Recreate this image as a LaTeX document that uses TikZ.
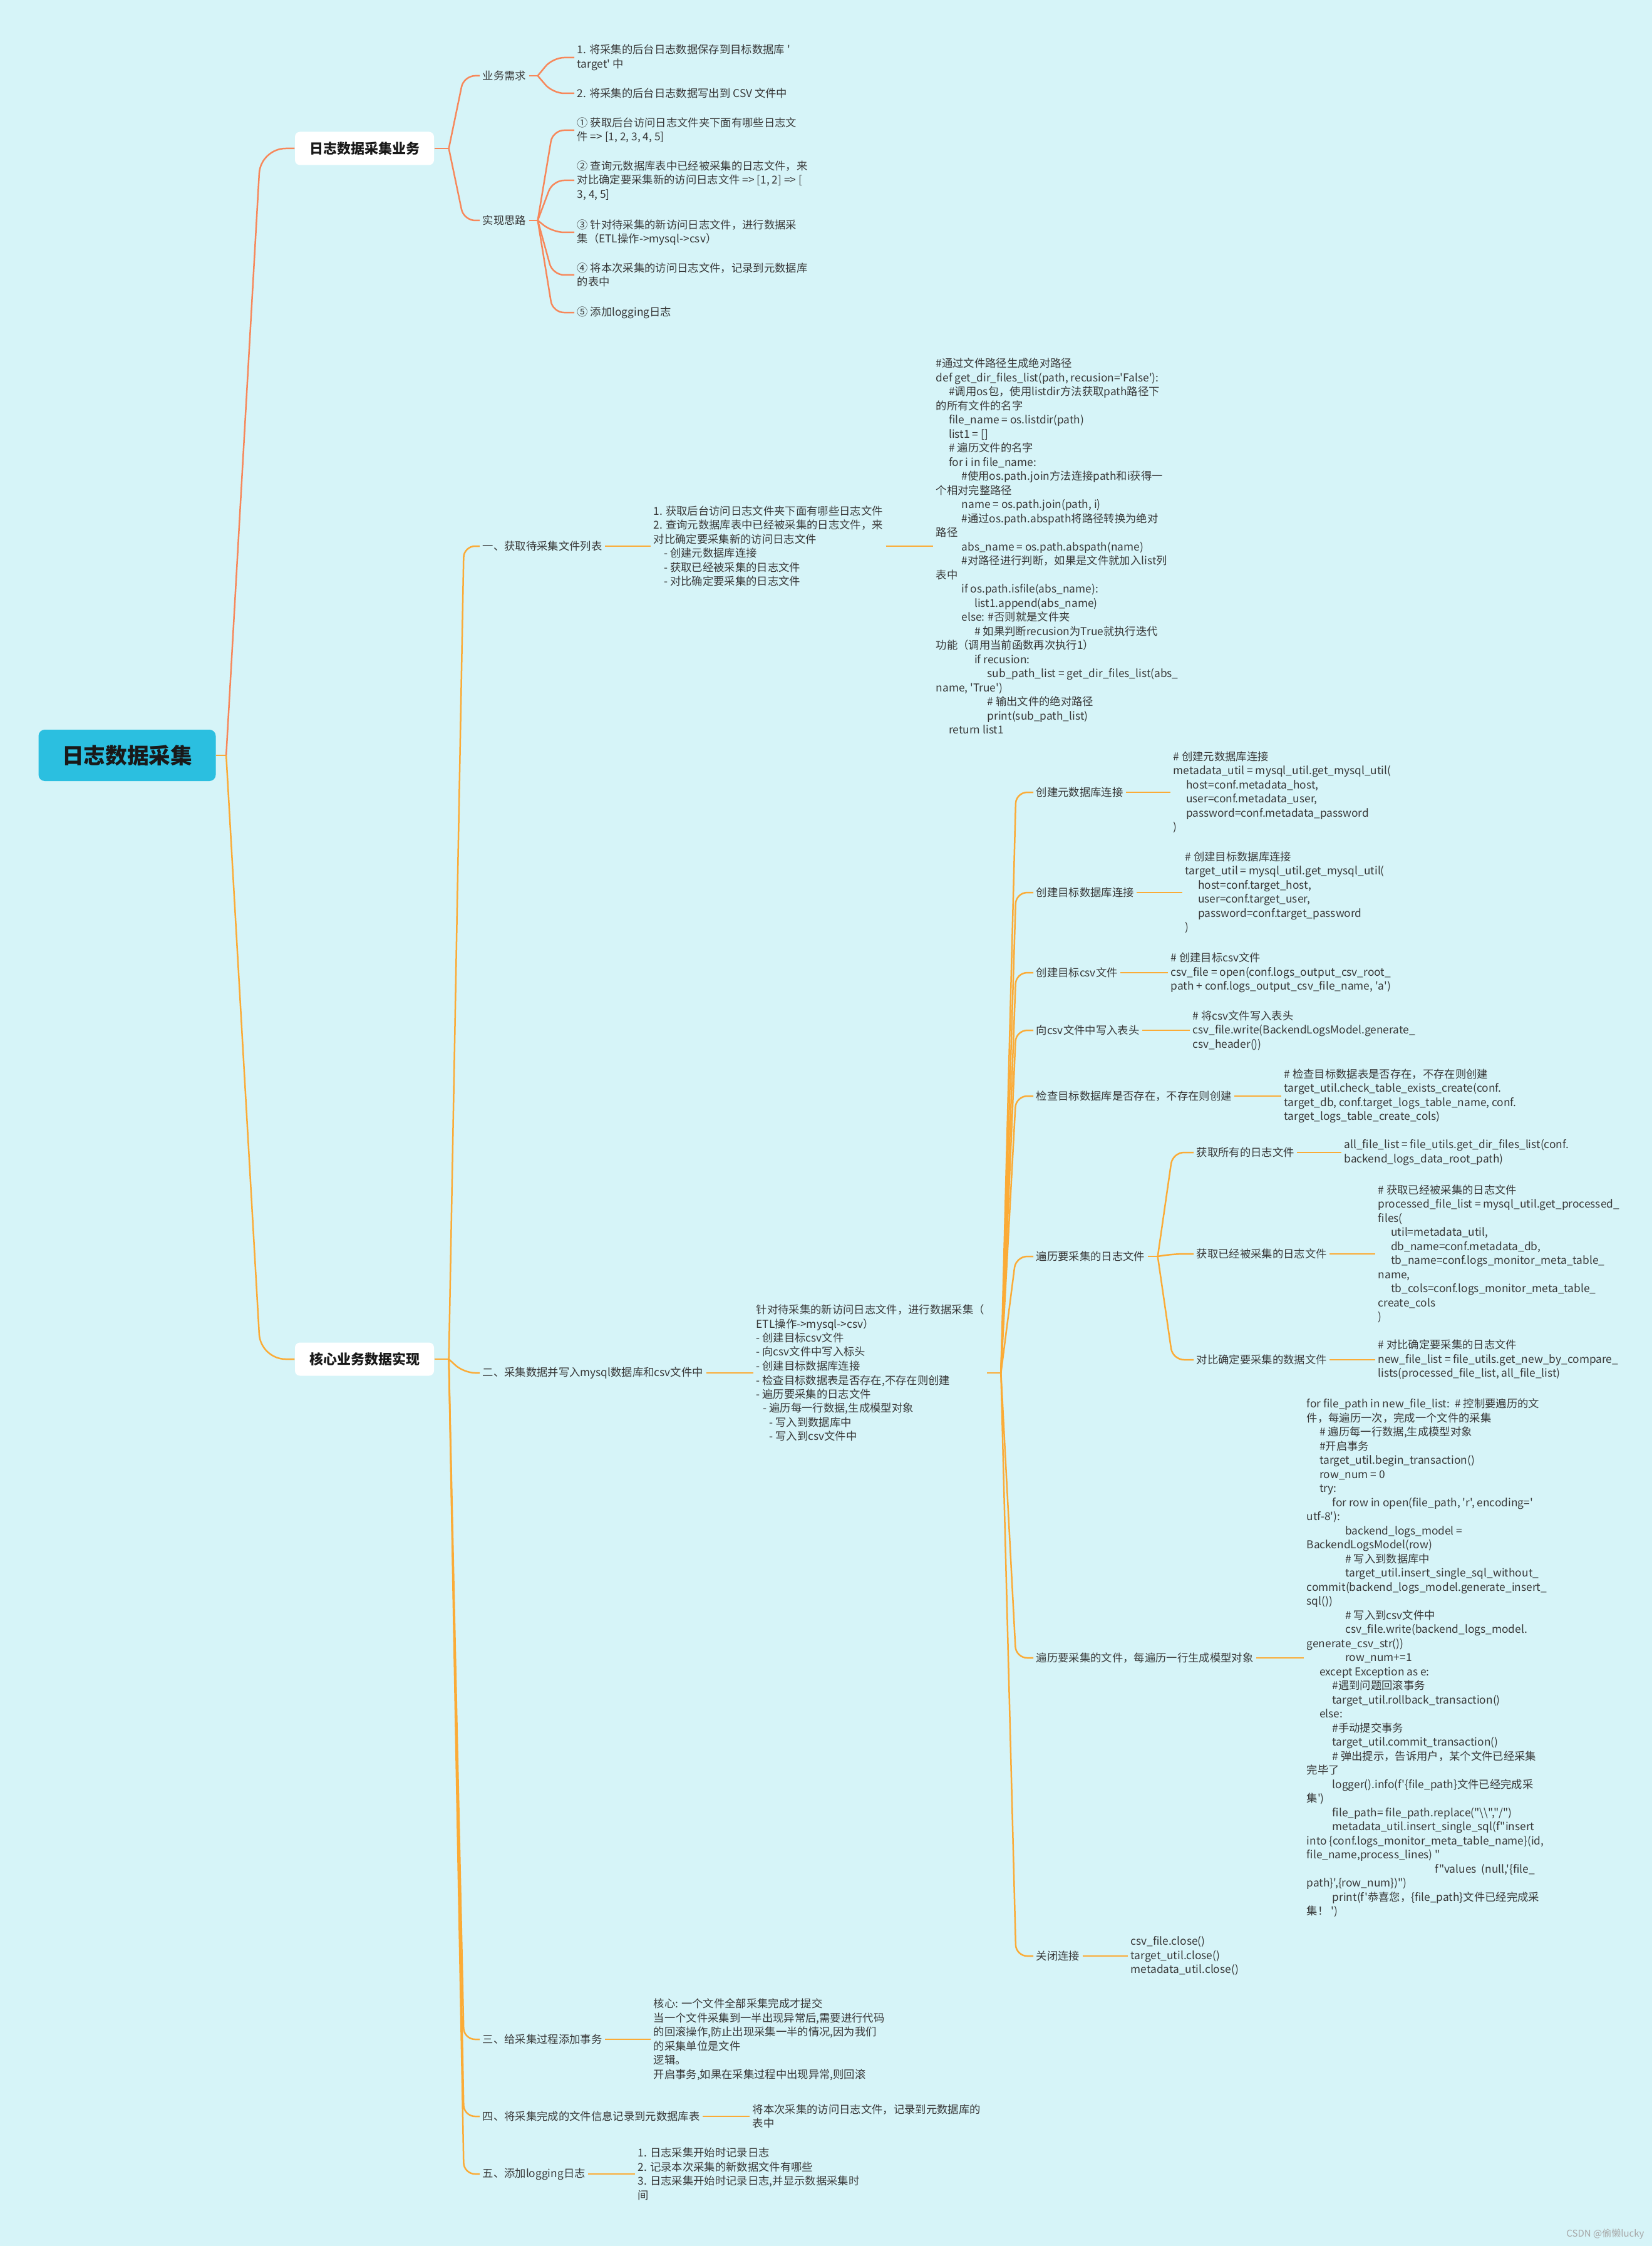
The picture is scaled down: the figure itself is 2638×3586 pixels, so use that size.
\documentclass[tikz,border=0pt]{standalone}
\usepackage{fontspec}
\setmainfont{Noto Sans CJK SC}[Ligatures=TeXOff]
\usepackage{tikz}
\usetikzlibrary{calc}
\definecolor{bgcyan}{HTML}{D6F4F8}
\definecolor{rootcyan}{HTML}{2BBFE0}
\definecolor{coral}{HTML}{F7875A}
\definecolor{amber}{HTML}{FBAB36}
\definecolor{ink}{HTML}{383838}
\newlength\stegw
\setlength\stegw{6.15pt}
\newcommand{\steg}[1]{\hspace*{#1\stegw}}
\tikzset{
  % noder
  rot/.style={rounded corners=3pt,fill=rootcyan,text=black!90,inner sep=0pt,
              minimum width=84.9pt,minimum height=24.6pt,
              font=\fontsize{10.4pt}{12pt}\selectfont\bfseries},
  amne/.style={rounded corners=2.4pt,fill=white,text=black!90,inner sep=0pt,
               minimum width=66.6pt,minimum height=15.9pt,
               font=\fontsize{6.6pt}{8pt}\selectfont\bfseries},
  gren/.style={anchor=west,inner xsep=1.2pt,inner ysep=0pt,align=left,text=ink,
               font=\fontsize{5.2pt}{6.75pt}\selectfont},
  % linjer
  ko/.style={draw=coral,line width=0.75pt,rounded corners=5.4pt},
  am/.style={draw=amber,line width=0.75pt,rounded corners=5.4pt},
}
\begin{document}
\begin{tikzpicture}[x=0.3pt,y=-0.3pt]
\fill[bgcyan] (0,0) rectangle (2638,3586);
\useasboundingbox (0,0) rectangle (2638,3586);
\node[rot] (rz) at (203,1206) {日志数据采集};
\node[amne] (yw) at (582,237) {日志数据采集业务};
\node[amne] (hx) at (582,2170) {核心业务数据实现};
\coordinate (j0) at ($(rz.east)+(16,0)$);
\draw[am] (rz.east) -- (j0);
\draw[ko,rounded corners=12pt] (j0) -- ($(j0 |- yw.west)+(55,0)$) -- (yw.west);
\draw[am,rounded corners=12pt] (j0) -- ($(j0 |- hx.west)+(55,0)$) -- (hx.west);

% 业务
\node[gren] (xq) at (766,121) {业务需求};
\node[gren] (sl) at (766,352) {实现思路};
\node[gren] (xq1) at (917,92) {1. 将采集的后台日志数据保存到目标数据库 '\\target' 中};
\node[gren] (xq2) at (917,149) {2. 将采集的后台日志数据写出到 CSV 文件中};
\node[gren] (sl1) at (917,208) {① 获取后台访问日志文件夹下面有哪些日志文\\件 => [1, 2, 3, 4, 5]};
\node[gren] (sl2) at (917,288) {② 查询元数据库表中已经被采集的日志文件，来\\对比确定要采集新的访问日志文件 => [1, 2] => [\\3, 4, 5]};
\node[gren] (sl3) at (917,371) {③ 针对待采集的新访问日志文件，进行数据采\\集（ETL操作->mysql->csv）};
\node[gren] (sl4) at (917,439) {④ 将本次采集的访问日志文件，记录到元数据库\\的表中};
\node[gren] (sl5) at (917,499) {⑤ 添加logging日志};
\coordinate (j1) at ($(yw.east)+(23,0)$);
\coordinate (j2) at ($(xq.east)+(14,0)$);
\coordinate (j3) at ($(sl.east)+(14,0)$);
\draw[ko] (yw.east) -- (j1);
\draw[ko] (j1) -- ($(j1 |- xq.west)+(24,0)$) -- (xq.west);
\draw[ko] (j1) -- ($(j1 |- sl.west)+(24,0)$) -- (sl.west);
\draw[ko] (xq.east) -- (j2);
\draw[ko] (j2) -- ($(j2 |- xq1.west)+(24,0)$) -- (xq1.west);
\draw[ko] (j2) -- ($(j2 |- xq2.west)+(24,0)$) -- (xq2.west);
\draw[ko] (sl.east) -- (j3);
\draw[ko] (j3) -- ($(j3 |- sl1.west)+(24,0)$) -- (sl1.west);
\draw[ko] (j3) -- ($(j3 |- sl2.west)+(24,0)$) -- (sl2.west);
\draw[ko] (j3) -- ($(j3 |- sl3.west)+(24,0)$) -- (sl3.west);
\draw[ko] (j3) -- ($(j3 |- sl4.west)+(24,0)$) -- (sl4.west);
\draw[ko] (j3) -- ($(j3 |- sl5.west)+(24,0)$) -- (sl5.west);

% 核心
\node[gren] (s1) at (766,872) {一、获取待采集文件列表};
\node[gren] (s2) at (766,2192) {二、采集数据并写入mysql数据库和csv文件中};
\node[gren] (s3) at (766,3256) {三、给采集过程添加事务};
\node[gren] (s4) at (766,3379) {四、将采集完成的文件信息记录到元数据库表};
\node[gren] (s5) at (766,3471) {五、添加logging日志};
\coordinate (j4) at ($(hx.east)+(23,0)$);
\draw[am] (hx.east) -- (j4);
\draw[am] (j4) -- ($(j4 |- s1.west)+(24,0)$) -- (s1.west);
\draw[am] (j4) -- ($(j4 |- s2.west)+(24,0)$) -- (s2.west);
\draw[am] (j4) -- ($(j4 |- s3.west)+(24,0)$) -- (s3.west);
\draw[am] (j4) -- ($(j4 |- s4.west)+(24,0)$) -- (s4.west);
\draw[am] (j4) -- ($(j4 |- s5.west)+(24,0)$) -- (s5.west);

\node[gren] (s1t) at (1039,872) {1. 获取后台访问日志文件夹下面有哪些日志文件\\
2. 查询元数据库表中已经被采集的日志文件，来\\
对比确定要采集新的访问日志文件\\
\hspace*{5pt}- 创建元数据库连接\\
\hspace*{5pt}- 获取已经被采集的日志文件\\
\hspace*{5pt}- 对比确定要采集的日志文件};
\node[gren] (s1k) at (1490,872) {\#通过文件路径生成绝对路径\\
def get\_dir\_files\_list(path, recusion='False'):\\
\steg{1}\#调用os包，使用listdir方法获取path路径下\\
的所有文件的名字\\
\steg{1}file\_name = os.listdir(path)\\
\steg{1}list1 = []\\
\steg{1}\# 遍历文件的名字\\
\steg{1}for i in file\_name:\\
\steg{2}\#使用os.path.join方法连接path和i获得一\\
个相对完整路径\\
\steg{2}name = os.path.join(path, i)\\
\steg{2}\#通过os.path.abspath将路径转换为绝对\\
路径\\
\steg{2}abs\_name = os.path.abspath(name)\\
\steg{2}\#对路径进行判断，如果是文件就加入list列\\
表中\\
\steg{2}if os.path.isfile(abs\_name):\\
\steg{3}list1.append(abs\_name)\\
\steg{2}else: \#否则就是文件夹\\
\steg{3}\# 如果判断recusion为True就执行迭代\\
功能（调用当前函数再次执行1）\\
\steg{3}if recusion:\\
\steg{4}sub\_path\_list = get\_dir\_files\_list(abs\_\\
name, 'True')\\
\steg{4}\# 输出文件的绝对路径\\
\steg{4}print(sub\_path\_list)\\
\steg{1}return list1};
\draw[am] (s1.east) -- (s1t.west |- s1.east);
\draw[am] (s1t.east) -- (s1k.west |- s1t.east);

\node[gren] (s2t) at (1203,2192) {针对待采集的新访问日志文件，进行数据采集（\\
ETL操作->mysql->csv）\\
- 创建目标csv文件\\
- 向csv文件中写入标头\\
- 创建目标数据库连接\\
- 检查目标数据表是否存在,不存在则创建\\
- 遍历要采集的日志文件\\
\hspace*{3.3pt}- 遍历每一行数据,生成模型对象\\
\hspace*{6.3pt}- 写入到数据库中\\
\hspace*{6.3pt}- 写入到csv文件中};
\draw[am] (s2.east) -- (s2t.west |- s2.east);
\coordinate (j5) at ($(s2t.east)+(22,0)$);
\draw[am] (s2t.east) -- (j5);

\node[gren] (a) at (1650,1265) {创建元数据库连接};
\node[gren] (b) at (1650,1425) {创建目标数据库连接};
\node[gren] (c) at (1650,1553) {创建目标csv文件};
\node[gren] (d) at (1650,1645) {向csv文件中写入表头};
\node[gren] (e) at (1650,1750) {检查目标数据库是否存在，不存在则创建};
\node[gren] (f) at (1650,2006) {遍历要采集的日志文件};
\node[gren] (g) at (1650,2647) {遍历要采集的文件，每遍历一行生成模型对象};
\node[gren] (h) at (1650,3123) {关闭连接};
\draw[am] (j5) -- ($(j5 |- a.west)+(24,0)$) -- (a.west);
\draw[am] (j5) -- ($(j5 |- b.west)+(24,0)$) -- (b.west);
\draw[am] (j5) -- ($(j5 |- c.west)+(24,0)$) -- (c.west);
\draw[am] (j5) -- ($(j5 |- d.west)+(24,0)$) -- (d.west);
\draw[am] (j5) -- ($(j5 |- e.west)+(24,0)$) -- (e.west);
\draw[am] (j5) -- ($(j5 |- f.west)+(24,0)$) -- (f.west);
\draw[am] (j5) -- ($(j5 |- g.west)+(24,0)$) -- (g.west);
\draw[am] (j5) -- ($(j5 |- h.west)+(24,0)$) -- (h.west);

\node[gren] (ak) at (1869,1265) {\# 创建元数据库连接\\
metadata\_util = mysql\_util.get\_mysql\_util(\\
\steg{1}host=conf.metadata\_host,\\
\steg{1}user=conf.metadata\_user,\\
\steg{1}password=conf.metadata\_password\\
)};
\node[gren] (bk) at (1888,1425) {\# 创建目标数据库连接\\
target\_util = mysql\_util.get\_mysql\_util(\\
\steg{1}host=conf.target\_host,\\
\steg{1}user=conf.target\_user,\\
\steg{1}password=conf.target\_password\\
)};
\node[gren] (ck) at (1865,1553) {\# 创建目标csv文件\\
csv\_file = open(conf.logs\_output\_csv\_root\_\\
path + conf.logs\_output\_csv\_file\_name, 'a')};
\node[gren] (dk) at (1900,1645) {\# 将csv文件写入表头\\
csv\_file.write(BackendLogsModel.generate\_\\
csv\_header())};
\node[gren] (ek) at (2046,1750) {\# 检查目标数据表是否存在，不存在则创建\\
target\_util.check\_table\_exists\_create(conf.\\
target\_db, conf.target\_logs\_table\_name, conf.\\
target\_logs\_table\_create\_cols)};
\draw[am] (a.east) -- (ak.west |- a.east);
\draw[am] (b.east) -- (bk.west |- b.east);
\draw[am] (c.east) -- (ck.west |- c.east);
\draw[am] (d.east) -- (dk.west |- d.east);
\draw[am] (e.east) -- (ek.west |- e.east);

\node[gren] (f1) at (1906,1840) {获取所有的日志文件};
\node[gren] (f2) at (1906,2002) {获取已经被采集的日志文件};
\node[gren] (f3) at (1906,2171) {对比确定要采集的数据文件};
\coordinate (j6) at ($(f.east)+(16,0)$);
\draw[am] (f.east) -- (j6);
\draw[am] (j6) -- ($(j6 |- f1.west)+(24,0)$) -- (f1.west);
\draw[am] (j6) -- ($(j6 |- f2.west)+(24,0)$) -- (f2.west);
\draw[am] (j6) -- ($(j6 |- f3.west)+(24,0)$) -- (f3.west);
\node[gren] (f1k) at (2142,1840) {all\_file\_list = file\_utils.get\_dir\_files\_list(conf.\\
backend\_logs\_data\_root\_path)};
\node[gren] (f2k) at (2196,2002) {\# 获取已经被采集的日志文件\\
processed\_file\_list = mysql\_util.get\_processed\_\\
files(\\
\steg{1}util=metadata\_util,\\
\steg{1}db\_name=conf.metadata\_db,\\
\steg{1}tb\_name=conf.logs\_monitor\_meta\_table\_\\
name,\\
\steg{1}tb\_cols=conf.logs\_monitor\_meta\_table\_\\
create\_cols\\
)};
\node[gren] (f3k) at (2196,2171) {\# 对比确定要采集的日志文件\\
new\_file\_list = file\_utils.get\_new\_by\_compare\_\\
lists(processed\_file\_list, all\_file\_list)};
\draw[am] (f1.east) -- (f1k.west |- f1.east);
\draw[am] (f2.east) -- (f2k.west |- f2.east);
\draw[am] (f3.east) -- (f3k.west |- f3.east);

\node[gren] (gk) at (2082,2647) {for file\_path in new\_file\_list:\ \ \# 控制要遍历的文\\
件，每遍历一次，完成一个文件的采集\\
\steg{1}\# 遍历每一行数据,生成模型对象\\
\steg{1}\#开启事务\\
\steg{1}target\_util.begin\_transaction()\\
\steg{1}row\_num = 0\\
\steg{1}try:\\
\steg{2}for row in open(file\_path, 'r', encoding='\\
utf-8'):\\
\steg{3}backend\_logs\_model =\\
BackendLogsModel(row)\\
\steg{3}\# 写入到数据库中\\
\steg{3}target\_util.insert\_single\_sql\_without\_\\
commit(backend\_logs\_model.generate\_insert\_\\
sql())\\
\steg{3}\# 写入到csv文件中\\
\steg{3}csv\_file.write(backend\_logs\_model.\\
generate\_csv\_str())\\
\steg{3}row\_num+=1\\
\steg{1}except Exception as e:\\
\steg{2}\#遇到问题回滚事务\\
\steg{2}target\_util.rollback\_transaction()\\
\steg{1}else:\\
\steg{2}\#手动提交事务\\
\steg{2}target\_util.commit\_transaction()\\
\steg{2}\# 弹出提示，告诉用户，某个文件已经采集\\
完毕了\\
\steg{2}logger().info(f'\{file\_path\}文件已经完成采\\
集')\\
\steg{2}file\_path= file\_path.replace("\textbackslash\textbackslash","/")\\
\steg{2}metadata\_util.insert\_single\_sql(f"insert\\
into \{conf.logs\_monitor\_meta\_table\_name\}(id,\\
file\_name,process\_lines) "\\
\steg{10}f"values\ \ (null,'\{file\_\\
path\}',\{row\_num\})")\\
\steg{2}print(f'恭喜您，\{file\_path\}文件已经完成采\\
集！ ')};
\node[gren] (hk) at (1801,3123) {csv\_file.close()\\
target\_util.close()\\
metadata\_util.close()};
\draw[am] (g.east) -- (gk.west |- g.east);
\draw[am] (h.east) -- (hk.west |- h.east);

\node[gren] (s3t) at (1039,3256) {核心: 一个文件全部采集完成才提交\\
当一个文件采集到一半出现异常后,需要进行代码\\
的回滚操作,防止出现采集一半的情况,因为我们\\
的采集单位是文件\\
逻辑。\\
开启事务,如果在采集过程中出现异常,则回滚};
\node[gren] (s4t) at (1197,3379) {将本次采集的访问日志文件，记录到元数据库的\\表中};
\node[gren] (s5t) at (1014,3471) {1. 日志采集开始时记录日志\\
2. 记录本次采集的新数据文件有哪些\\
3. 日志采集开始时记录日志,并显示数据采集时\\
间};
\draw[am] (s3.east) -- (s3t.west |- s3.east);
\draw[am] (s4.east) -- (s4t.west |- s4.east);
\draw[am] (s5.east) -- (s5t.west |- s5.east);

\node[gren,anchor=east,text=black!35,font=\fontsize{4.5pt}{5pt}\selectfont] (wm) at (2630,3567) {CSDN @偷懒lucky};
\end{tikzpicture}
\end{document}
